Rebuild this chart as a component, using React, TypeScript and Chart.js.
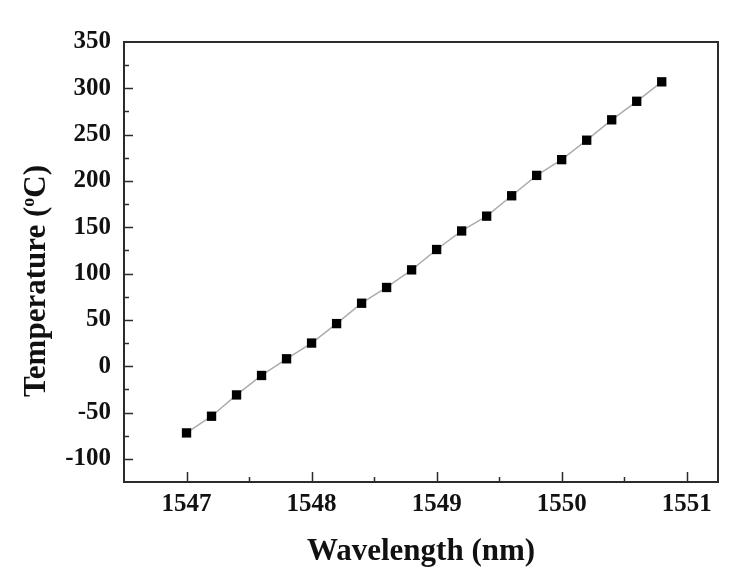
import React, { useEffect, useRef } from "react";
import { Chart, registerables } from "chart.js";

Chart.register(...registerables);

// ---- Data ----
const wavelengths = [
  1547.0, 1547.2, 1547.4, 1547.6, 1547.8, 1548.0, 1548.2, 1548.4, 1548.6, 1548.8,
  1549.0, 1549.2, 1549.4, 1549.6, 1549.8, 1550.0, 1550.2, 1550.4, 1550.6, 1550.8,
];
const temperatures = [
  -72, -54, -31, -10, 8, 25, 46, 68, 85, 104,
  126, 146, 162, 184, 206, 223, 244, 266, 286, 307,
];
const xTickLabels = [1547, 1548, 1549, 1550, 1551];
const yTickLabels = [-100, -50, 0, 50, 100, 150, 200, 250, 300, 350];
const xTitle = "Wavelength (nm)";
const yTitleMain = "Temperature (";
const yTitleSup = "o";
const yTitleEnd = "C)";

const FONT = '"Liberation Serif", "Times New Roman", serif';
const AXIS_COLOR = "#2b2b2b";
const TEXT_COLOR = "#111111";

const framePlugin = {
  id: "frameTicks",
  beforeDatasetsDraw(chart: any) {
    const { ctx, chartArea } = chart;
    const xs = chart.scales.x;
    const ys = chart.scales.y;
    const { left, right, top, bottom } = chartArea;
    ctx.save();
    ctx.strokeStyle = AXIS_COLOR;
    ctx.lineWidth = 2;
    ctx.strokeRect(left, top, right - left, bottom - top);

    ctx.lineWidth = 1.5;
    const xMinor: number[] = [];
    for (let i = 0; i < xTickLabels.length - 1; i++) xMinor.push((xTickLabels[i] + xTickLabels[i + 1]) / 2);
    const yMinor: number[] = [];
    for (let i = 0; i < yTickLabels.length - 1; i++) yMinor.push((yTickLabels[i] + yTickLabels[i + 1]) / 2);
    yMinor.unshift(yTickLabels[0] - 25);

    ctx.beginPath();
    xTickLabels.forEach((v) => {
      const px = Math.round(xs.getPixelForValue(v)) + 0.5;
      ctx.moveTo(px, bottom);
      ctx.lineTo(px, bottom - 10);
    });
    xMinor.forEach((v) => {
      const px = Math.round(xs.getPixelForValue(v)) + 0.5;
      ctx.moveTo(px, bottom);
      ctx.lineTo(px, bottom - 5);
    });
    yTickLabels.forEach((v) => {
      const py = Math.round(ys.getPixelForValue(v)) + 0.5;
      if (py < top + 2) return;
      ctx.moveTo(left, py);
      ctx.lineTo(left + 9, py);
    });
    yMinor.forEach((v) => {
      const py = Math.round(ys.getPixelForValue(v)) + 0.5;
      if (py > bottom - 2 || py < top + 2) return;
      ctx.moveTo(left, py);
      ctx.lineTo(left + 5, py);
    });
    ctx.stroke();
    ctx.restore();
  },
  afterDraw(chart: any) {
    const { ctx, chartArea } = chart;
    ctx.save();
    ctx.fillStyle = TEXT_COLOR;
    // X title
    ctx.font = `bold 31px ${FONT}`;
    ctx.textAlign = "center";
    ctx.textBaseline = "alphabetic";
    ctx.fillText(xTitle, (chartArea.left + chartArea.right) / 2, 560);

    // Y title with superscript
    ctx.translate(45, 0);
    ctx.rotate(-Math.PI / 2);
    ctx.textAlign = "left";
    const mainFont = `bold 31px ${FONT}`;
    const supFont = `bold 18px ${FONT}`;
    ctx.font = mainFont;
    const w1 = ctx.measureText(yTitleMain).width;
    ctx.font = supFont;
    const w2 = ctx.measureText(yTitleSup).width;
    ctx.font = mainFont;
    const w3 = ctx.measureText(yTitleEnd).width;
    const total = w1 + w2 + w3;
    const centerY = 281;
    let x0 = -(centerY + total / 2);
    ctx.font = mainFont;
    ctx.fillText(yTitleMain, x0, 0);
    x0 += w1;
    ctx.font = supFont;
    ctx.fillText(yTitleSup, x0, -11);
    x0 += w2;
    ctx.font = mainFont;
    ctx.fillText(yTitleEnd, x0, 0);
    ctx.restore();
  },
};

export default function App() {
  const canvasRef = useRef<HTMLCanvasElement | null>(null);

  useEffect(() => {
    document.body.style.margin = "0";
    const canvas = canvasRef.current;
    if (!canvas) return;
    const points = wavelengths.map((x, i) => ({ x, y: temperatures[i] }));
    const chart = new Chart(canvas, {
      type: "line",
      data: {
        datasets: [
          {
            data: points,
            borderColor: "#acacac",
            borderWidth: 1.5,
            pointStyle: "rect",
            pointRadius: 6.6,
            pointBackgroundColor: "#000000",
            pointBorderColor: "#000000",
            pointBorderWidth: 0,
            tension: 0,
            fill: false,
          },
        ],
      },
      options: {
        animation: false,
        responsive: false,
        maintainAspectRatio: false,
        devicePixelRatio: 1,
        layout: { padding: { top: 42, right: 26, left: 0, bottom: 0 } },
        plugins: {
          legend: { display: false },
          tooltip: { enabled: false },
          title: { display: false },
        },
        events: [],
        scales: {
          x: {
            type: "linear",
            min: 1546.5,
            max: 1551.25,
            grid: { display: false, drawTicks: false },
            border: { display: false },
            afterFit: (scale: any) => {
              scale.height = 98;
            },
            afterBuildTicks: (scale: any) => {
              scale.ticks = xTickLabels.map((v) => ({ value: v }));
            },
            ticks: {
              padding: 8,
              color: TEXT_COLOR,
              font: { family: FONT, size: 25, weight: "bold" },
              callback: (v: any) => String(v),
            },
          },
          y: {
            type: "linear",
            min: -125,
            max: 350,
            grid: { display: false, drawTicks: false },
            border: { display: false },
            afterFit: (scale: any) => {
              scale.width = 124;
            },
            afterBuildTicks: (scale: any) => {
              scale.ticks = yTickLabels.map((v) => ({ value: v }));
            },
            ticks: {
              padding: 13,
              color: TEXT_COLOR,
              font: { family: FONT, size: 25, weight: "bold" },
              callback: (v: any) => String(v),
            },
          },
        },
      },
      plugins: [framePlugin],
    } as any);
    return () => chart.destroy();
  }, []);

  return (
    <div style={{ width: 744, height: 580, background: "#ffffff" }}>
      <canvas ref={canvasRef} width={744} height={580} style={{ display: "block" }} />
    </div>
  );
}
